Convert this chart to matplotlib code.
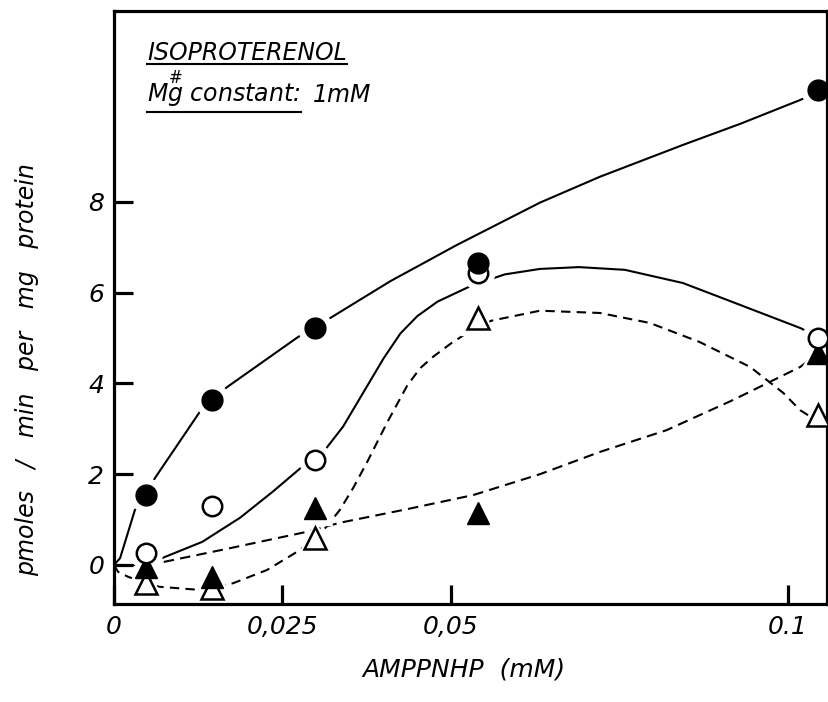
import matplotlib
matplotlib.use('Agg')
import matplotlib.pyplot as plt
from matplotlib.lines import Line2D

plt.rcParams['mathtext.fontset'] = 'dejavusans'

# AMPPNHP concentration (mM) of the measured points
conc = [0.0047, 0.0145, 0.0298, 0.054, 0.1045]

# pmoles / min per mg protein
filled_circles = [1.54, 3.63, 5.22, 6.65, 10.46]
open_circles = [0.26, 1.30, 2.31, 6.43, 5.00]
filled_triangles = [-0.04, -0.26, 1.26, 1.15, 4.67]
open_triangles = [-0.40, -0.51, 0.59, 5.44, 3.30]

# hand-drawn fit curves
fc_curve_x = [0.0, 0.0009, 0.0031, 0.0047, 0.0061, 0.0129, 0.0145, 0.0168, 0.0273,
              0.0298, 0.0321, 0.0410, 0.0509, 0.0632, 0.0721, 0.0844, 0.0930, 0.1018, 0.1036]
fc_curve_y = [0.0, 0.15, 1.21, 1.54, 1.92, 3.41, 3.63, 3.92, 5.02,
              5.22, 5.44, 6.25, 7.05, 7.98, 8.55, 9.25, 9.72, 10.24, 10.36]

oc_curve_x = [0.0053, 0.0071, 0.0131, 0.0187, 0.0236, 0.0286, 0.0306, 0.0340, 0.0360,
              0.0380, 0.0400, 0.0425, 0.0450, 0.0480, 0.0533, 0.0580, 0.0632, 0.0690,
              0.0758, 0.0844, 0.0918, 0.1018, 0.1036]
oc_curve_y = [0.07, 0.15, 0.51, 1.04, 1.62, 2.25, 2.40, 3.05, 3.55,
              4.05, 4.55, 5.10, 5.48, 5.80, 6.17, 6.40, 6.52, 6.56,
              6.50, 6.21, 5.79, 5.22, 5.09]

ot_curve_x = [0.0, 0.0006, 0.0021, 0.0047, 0.0068, 0.0128, 0.0177, 0.0227, 0.0276,
              0.0310, 0.0335, 0.0355, 0.0375, 0.0405, 0.0435, 0.0454, 0.0473, 0.0500,
              0.0524, 0.0560, 0.0632, 0.0721, 0.0795, 0.0869, 0.0944, 0.0993, 0.1018, 0.1036]
ot_curve_y = [0.0, -0.15, -0.26, -0.40, -0.48, -0.55, -0.40, -0.11, 0.33,
              0.75, 1.21, 1.70, 2.25, 3.13, 3.95, 4.33, 4.58, 4.88,
              5.11, 5.38, 5.60, 5.55, 5.33, 4.91, 4.36, 3.79, 3.41, 3.24]

ft_curve_x = [0.0, 0.0047, 0.0065, 0.0172, 0.0286, 0.0335, 0.0435, 0.0533, 0.0632,
              0.0721, 0.0820, 0.0918, 0.1018, 0.1036]
ft_curve_y = [0.0, 0.0, 0.04, 0.37, 0.73, 0.93, 1.23, 1.54, 2.00,
              2.49, 2.97, 3.63, 4.36, 4.56]

xticks = [0, 0.025, 0.05, 0.1]
xticklabels = ['0', '0,025', '0,05', '0.1']
yticks = [0, 2, 4, 6, 8]
yticklabels = ['0', '2', '4', '6', '8']

W, H = 829, 702
fig = plt.figure(figsize=(W / 100, H / 100), dpi=100)
ax = fig.add_axes([114 / W, 1 - 604 / H, (827 - 114) / W, (604 - 11) / H])
ax.set_xlim(0, 0.10579)
ax.set_ylim(-0.859, 12.20)

# curves
ax.plot(fc_curve_x, fc_curve_y, color='black', lw=1.5, zorder=2, solid_joinstyle='round')
ax.plot(oc_curve_x, oc_curve_y, color='black', lw=1.5, zorder=2, solid_joinstyle='round')
ax.plot(ot_curve_x, ot_curve_y, color='black', lw=1.5, dashes=(4.5, 3), zorder=2)
ax.plot(ft_curve_x, ft_curve_y, color='black', lw=1.5, dashes=(5, 3), zorder=2)

# white halos so the lines stop short of the symbols
for ys, m, ms in [(filled_circles, 'o', 15), (open_circles, 'o', 14),
                  (filled_triangles, '^', 16), (open_triangles, '^', 16)]:
    ax.plot(conc, ys, ls='none', marker=m, ms=ms + 9, mfc='white', mec='white',
            zorder=2.5, clip_on=False)

ax.plot(conc, open_triangles, ls='none', marker='^', ms=16, mfc='white', mec='black',
        mew=1.8, zorder=3, clip_on=False)
ax.plot(conc, filled_triangles, ls='none', marker='^', ms=16, mfc='black', mec='black',
        zorder=3.1, clip_on=False)
ax.plot(conc, open_circles, ls='none', marker='o', ms=14, mfc='white', mec='black',
        mew=1.8, zorder=3.2, clip_on=False)
ax.plot(conc, filled_circles, ls='none', marker='o', ms=15, mfc='black', mec='black',
        zorder=3.3, clip_on=False)

for s in ax.spines.values():
    s.set_linewidth(2.3)
ax.set_xticks(xticks)
ax.set_xticklabels(xticklabels)
ax.set_yticks(yticks)
ax.set_yticklabels(yticklabels)
ax.tick_params(direction='in', length=14, width=2.3, labelsize=18, pad=7)
ax.tick_params(axis='x', pad=8)
for lab in ax.get_xticklabels() + ax.get_yticklabels():
    lab.set_fontstyle('italic')

fig.text(27 / W, 1 - 370 / H, 'pmoles   /   min   per   mg   protein', rotation=90,
         ha='center', va='center', fontsize=17, style='italic')
fig.text(464 / W, 1 - 669 / H, 'AMPPNHP  (mM)', ha='center', va='center',
         fontsize=18, style='italic')

t1 = fig.text(147 / W, 1 - 60 / H, 'ISOPROTERENOL', ha='left', va='baseline',
              fontsize=17, style='italic')
t2 = fig.text(147 / W, 1 - 102 / H, r'$M\overset{\#}{g}$ constant:', ha='left',
              va='baseline', fontsize=17, style='italic')

# underline the two heading lines, put "1mM" after the second one
fig.canvas.draw()
r = fig.canvas.get_renderer()
for t, ypix in [(t1, 64), (t2, 112)]:
    bb = t.get_window_extent(r)
    yf = 1 - ypix / H
    fig.add_artist(Line2D([bb.x0 / W, bb.x1 / W], [yf, yf], color='black', lw=1.5,
                          transform=fig.transFigure))
bb2 = t2.get_window_extent(r)
fig.text((bb2.x1 + 12) / W, 1 - 102 / H, '1mM', ha='left', va='baseline',
         fontsize=17, style='italic')

fig.savefig('out.png', dpi=100)
